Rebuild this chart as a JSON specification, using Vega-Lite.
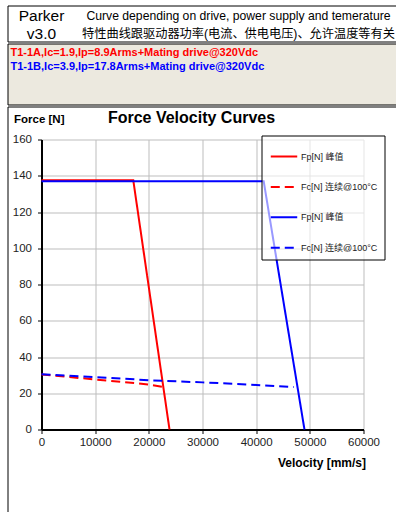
{
  "$schema": "https://vega.github.io/schema/vega-lite/v6.json",
  "background": "white",
  "padding": {"left": 6.5, "top": 4.5, "right": 0, "bottom": 0},
  "config": {
    "font": "Liberation Sans, Noto Sans CJK SC, sans-serif",
    "view": {"stroke": null}
  },
  "datasets": {
    "header": [
      {"col": "L", "row": 1, "text": "Parker"},
      {"col": "L", "row": 2, "text": "v3.0"},
      {"col": "R", "row": 1, "text": "Curve depending on drive, power supply and temerature"},
      {"col": "R", "row": 2, "text": "特性曲线跟驱动器功率(电流、供电电压)、允许温度等有关"}
    ],
    "models": [
      {"model": "T1-1A", "text": "T1-1A,Ic=1.9,Ip=8.9Arms+Mating drive@320Vdc"},
      {"model": "T1-1B", "text": "T1-1B,Ic=3.9,Ip=17.8Arms+Mating drive@320Vdc"}
    ],
    "curves": [
      {"series": "A_p", "velocity": 0, "force": 137.5},
      {"series": "A_p", "velocity": 17100, "force": 137.5},
      {"series": "A_p", "velocity": 23850, "force": 0},
      {"series": "A_c", "velocity": 0, "force": 30.3},
      {"series": "A_c", "velocity": 5000, "force": 29.0},
      {"series": "A_c", "velocity": 10000, "force": 27.6},
      {"series": "A_c", "velocity": 15000, "force": 26.3},
      {"series": "A_c", "velocity": 20000, "force": 24.8},
      {"series": "A_c", "velocity": 22500, "force": 23.6},
      {"series": "B_p", "velocity": 0, "force": 137},
      {"series": "B_p", "velocity": 41400, "force": 137},
      {"series": "B_p", "velocity": 49000, "force": 0},
      {"series": "B_c", "velocity": 0, "force": 30.5},
      {"series": "B_c", "velocity": 10000, "force": 28.9},
      {"series": "B_c", "velocity": 20000, "force": 27.2},
      {"series": "B_c", "velocity": 30000, "force": 26.0},
      {"series": "B_c", "velocity": 40000, "force": 24.6},
      {"series": "B_c", "velocity": 47000, "force": 23.4}
    ]
  },
  "spacing": 0,
  "resolve": {"scale": {"color": "independent", "strokeDash": "independent"}, "legend": {"color": "independent", "strokeDash": "independent"}},
  "vconcat": [
    {
      "width": 392,
      "height": 36,
      "view": {"fill": "white", "stroke": "black", "strokeWidth": 1},
      "data": {"name": "header"},
      "encoding": {
        "x": {"field": "col", "type": "nominal", "scale": {"type": "point", "domain": ["L", "R"], "range": [34, 231], "padding": 0}, "axis": null},
        "y": {"field": "row", "type": "ordinal", "scale": {"type": "point", "domain": [1, 2], "range": [10, 28], "padding": 0}, "axis": null},
        "text": {"field": "text"}
      },
      "layer": [
        {"transform": [{"filter": "datum.col == 'L'"}], "mark": {"type": "text", "fontSize": 15.5, "align": "center", "baseline": "middle", "color": "black"}},
        {"transform": [{"filter": "datum.col == 'R'"}], "mark": {"type": "text", "fontSize": 12.2, "align": "center", "baseline": "middle", "color": "black"}}
      ]
    },
    {
      "width": 392,
      "height": 61,
      "view": {"fill": "#ECE9DF", "stroke": "black", "strokeWidth": 1},
      "data": {"name": "models"},
      "encoding": {
        "x": {"field": "model", "type": "nominal", "scale": {"type": "point", "range": [3, 3], "padding": 0}, "axis": null},
        "y": {"field": "model", "type": "nominal", "scale": {"type": "point", "domain": ["T1-1A", "T1-1B"], "range": [9, 23], "padding": 0}, "axis": null},
        "text": {"field": "text"}
      },
      "layer": [
        {"transform": [{"filter": "datum.model == 'T1-1A'"}], "mark": {"type": "text", "fontSize": 11, "fontWeight": "bold", "align": "left", "baseline": "middle", "color": "#ff0000"}},
        {"transform": [{"filter": "datum.model == 'T1-1B'"}], "mark": {"type": "text", "fontSize": 11, "fontWeight": "bold", "align": "left", "baseline": "middle", "color": "#0000ff"}}
      ]
    },
    {
      "width": 392,
      "height": 407,
      "view": {"fill": "white", "stroke": "black", "strokeWidth": 1},
      "data": {"name": "curves"},
      "title": {"text": "Force Velocity Curves", "fontSize": 16, "fontWeight": "bold", "anchor": "middle", "dx": -12, "baseline": "alphabetic", "offset": -32.5, "color": "black"},
      "resolve": {"scale": {"x": "independent"}, "axis": {"x": "independent"}},
      "layer": [
        {
          "mark": {"type": "line", "opacity": 0},
          "encoding": {
            "x": {
              "field": "velocity", "type": "quantitative",
              "scale": {"domain": [0, 60000], "nice": false, "range": [34, 356]},
              "axis": {
                "orient": "top", "offset": 0,
                "values": [0, 10000, 20000, 30000, 40000, 50000, 60000],
                "grid": true, "gridColor": "#bdbdbd", "gridWidth": 1,
                "domain": false, "ticks": false, "labels": false, "title": null
              }
            },
            "y": {
              "field": "force", "type": "quantitative",
              "scale": {"domain": [0, 160], "nice": false, "range": [323, 33]},
              "axis": {
                "offset": -34,
                "values": [0, 20, 40, 60, 80, 100, 120, 140, 160],
                "labelOverlap": false,
                "labelFontSize": 11.5, "labelColor": "#222", "labelPadding": 6,
                "tickColor": "black", "tickSize": 4,
                "domainColor": "black", "domainWidth": 2,
                "gridColor": "#bdbdbd", "gridWidth": 1,
                "title": "Force [N]", "titleAngle": 0, "titleX": -28, "titleY": 13,
                "titleAlign": "left", "titleBaseline": "middle",
                "titleFontSize": 11.5, "titleFontWeight": "bold", "titleColor": "black"
              }
            },
            "detail": {"field": "series"}
          }
        },
        {
          "mark": {"type": "line", "strokeWidth": 2},
          "encoding": {
            "x": {
              "field": "velocity", "type": "quantitative",
              "scale": {"domain": [0, 60000], "nice": false, "range": [34, 356]},
              "axis": {
                "orient": "bottom", "offset": -84, "grid": false,
                "values": [0, 10000, 20000, 30000, 40000, 50000, 60000],
                "format": "d", "labelFlush": false, "labelOverlap": false,
                "labelFontSize": 11.5, "labelColor": "#222", "labelPadding": 3,
                "tickColor": "black", "tickSize": 4,
                "domainColor": "black", "domainWidth": 2,
                "title": "Velocity [mm/s]", "titleX": 358, "titleY": 33,
                "titleAlign": "right", "titleBaseline": "middle",
                "titleFontSize": 12, "titleFontWeight": "bold", "titleColor": "black"
              }
            },
            "y": {"field": "force", "type": "quantitative"},
            "color": {
              "field": "series", "type": "nominal",
              "scale": {"domain": ["A_p", "A_c", "B_p", "B_c"], "range": ["#ff0000", "#ff0000", "#0000ff", "#0000ff"]},
              "legend": {
                "orient": "none", "legendX": 254, "legendY": 29, "title": null,
                "fillColor": "rgba(255,255,255,0.6)", "strokeColor": "black",
                "padding": 6.5, "rowPadding": 10.4,
                "symbolType": "stroke", "symbolSize": 700, "symbolStrokeWidth": 2, "symbolOffset": 1.5,
                "labelOffset": 2.5, "labelFontSize": 9, "labelColor": "#222",
                "labelExpr": "datum.value == 'A_p' || datum.value == 'B_p' ? 'Fp[N] 峰值' : 'Fc[N] 连续@100°C'"
              }
            },
            "strokeDash": {
              "field": "series", "type": "nominal",
              "scale": {"domain": ["A_p", "A_c", "B_p", "B_c"], "range": [[1, 0], [9, 5], [1, 0], [9, 5]]}
            }
          }
        }
      ]
    }
  ]
}
